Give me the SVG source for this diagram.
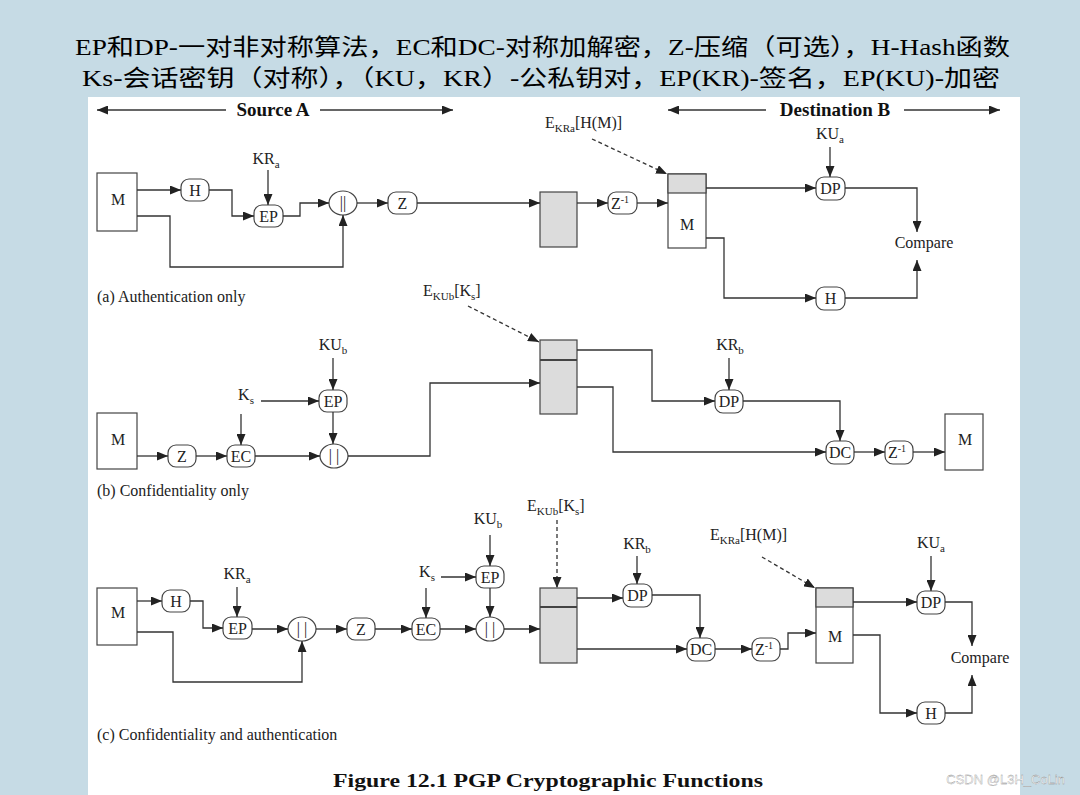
<svg xmlns="http://www.w3.org/2000/svg" width="1080" height="795" viewBox="0 0 1080 795">
<defs>
<marker id="ah" markerUnits="userSpaceOnUse" markerWidth="11" markerHeight="9" refX="11" refY="4.5" orient="auto"><path d="M0,0 L11,4.5 L0,9 z" fill="#222"/></marker>
<style>
.ln{fill:none;stroke:#333;stroke-width:1.3;marker-end:url(#ah)}
.ds{fill:none;stroke:#333;stroke-width:1.3;stroke-dasharray:4 3;marker-end:url(#ah)}
.nd{fill:#fff;stroke:#444;stroke-width:1.2}
.bx{fill:#fff;stroke:#444;stroke-width:1.2}
.gr{fill:#dcdcdc;stroke:#444;stroke-width:1.2}
.t{font-family:"Liberation Serif",serif;font-size:16px;fill:#222}
.c{text-anchor:middle}
.cap{font-family:"Liberation Serif",serif;font-size:16px;fill:#222}
.sub{font-size:11px}
.hd{font-family:"Liberation Serif","Noto Sans CJK SC",serif;font-size:23px;fill:#000}
.bd{font-family:"Liberation Serif",serif;font-size:19px;font-weight:bold;fill:#111}
</style>
</defs>
<rect width="1080" height="795" fill="#c6dbe5"/>
<rect x="88" y="97" width="932" height="698" fill="#fff"/>
<g id="header">
<text class="hd" x="75" y="55" textLength="935" lengthAdjust="spacingAndGlyphs">EP和DP-一对非对称算法，EC和DC-对称加解密，Z-压缩（可选），H-Hash函数</text>
<text class="hd" x="82" y="86" textLength="918" lengthAdjust="spacingAndGlyphs">Ks-会话密钥（对称），（KU，KR）-公私钥对，EP(KR)-签名，EP(KU)-加密</text>
</g>
<g id="sides">
<path class="ln" d="M226,110 H97"/><path class="ln" d="M320,110 H453"/>
<text class="bd c" x="273" y="116">Source A</text>
<path class="ln" d="M766,110 H668"/><path class="ln" d="M904,110 H1000"/>
<text class="bd c" x="835" y="116">Destination B</text>
</g>

<!-- Panel (a) -->
<g id="a-M"><rect class="bx" x="97" y="173" width="40" height="58"/><text class="t c" x="118" y="205">M</text></g>
<g id="a-H"><rect class="nd" x="181" y="179" width="28" height="22" rx="8"/><text class="t c" x="195" y="196">H</text></g>
<g id="a-EP"><rect class="nd" x="254" y="205" width="29" height="22" rx="8"/><text class="t c" x="268.5" y="222">EP</text></g>
<g id="a-cat"><ellipse class="nd" cx="343" cy="203" rx="14" ry="12"/><text class="t c" x="343" y="208" font-size="12">||</text></g>
<g id="a-Z"><rect class="nd" x="388" y="192" width="29" height="22" rx="8"/><text class="t c" x="402.5" y="209">Z</text></g>
<g id="a-msg"><rect class="gr" x="540" y="192" width="37" height="55"/></g>
<g id="a-Zi"><rect class="nd" x="608" y="192" width="29" height="22" rx="8"/><text class="t c" x="620" y="209">Z<tspan dy="-6" font-size="10">-1</tspan></text></g>
<g id="a-box"><rect class="bx" x="668" y="174" width="38" height="74"/><rect class="gr" x="668" y="174" width="38" height="19"/><text class="t c" x="687" y="230">M</text></g>
<g id="a-DP"><rect class="nd" x="816" y="177" width="29" height="23" rx="8"/><text class="t c" x="830.5" y="194">DP</text></g>
<g id="a-H2"><rect class="nd" x="816" y="287" width="29" height="23" rx="8"/><text class="t c" x="830.5" y="304">H</text></g>
<g id="a-labels">
<text class="t c" x="266" y="164">KR<tspan class="sub" dy="4">a</tspan></text>
<text class="t" x="545" y="128">E<tspan class="sub" dy="4">KRa</tspan><tspan dy="-4">[H(M)]</tspan></text>
<text class="t c" x="830" y="139">KU<tspan class="sub" dy="4">a</tspan></text>
<text class="t c" x="924" y="248">Compare</text>
<text class="cap" x="97" y="302">(a) Authentication only</text>
</g>

<!-- Panel (b) -->
<g id="b-M"><rect class="bx" x="97" y="413" width="40" height="56"/><text class="t c" x="118" y="445">M</text></g>
<g id="b-Z"><rect class="nd" x="168" y="445" width="28" height="22" rx="8"/><text class="t c" x="182" y="462">Z</text></g>
<g id="b-EC"><rect class="nd" x="227" y="445" width="28" height="22" rx="8"/><text class="t c" x="241" y="462">EC</text></g>
<g id="b-EP"><rect class="nd" x="319" y="390" width="28" height="22" rx="8"/><text class="t c" x="333" y="407">EP</text></g>
<g id="b-cat"><ellipse class="nd" cx="334" cy="456" rx="14" ry="12"/><text class="t c" x="334" y="461" font-size="13">| |</text></g>
<g id="b-msg"><rect class="gr" x="540" y="340" width="37" height="74"/><line x1="540" y1="360" x2="577" y2="360" stroke="#444" stroke-width="2"/></g>
<g id="b-DP"><rect class="nd" x="715" y="390" width="28" height="23" rx="8"/><text class="t c" x="729" y="407">DP</text></g>
<g id="b-DC"><rect class="nd" x="826" y="441" width="28" height="23" rx="8"/><text class="t c" x="840" y="458">DC</text></g>
<g id="b-Zi"><rect class="nd" x="885" y="441" width="28" height="23" rx="8"/><text class="t c" x="897" y="458">Z<tspan dy="-6" font-size="10">-1</tspan></text></g>
<g id="b-Mout"><rect class="bx" x="945" y="414" width="38" height="56"/><text class="t c" x="965" y="445">M</text></g>
<g id="b-labels">
<text class="t" x="423" y="296">E<tspan class="sub" dy="4">KUb</tspan><tspan dy="-4">[K</tspan><tspan class="sub" dy="4">s</tspan><tspan dy="-4">]</tspan></text>
<text class="t c" x="246" y="400">K<tspan class="sub" dy="4">s</tspan></text>
<text class="t c" x="333" y="350">KU<tspan class="sub" dy="4">b</tspan></text>
<text class="t c" x="730" y="350">KR<tspan class="sub" dy="4">b</tspan></text>
<text class="cap" x="97" y="496">(b) Confidentiality only</text>
</g>

<!-- Panel (c) -->
<g id="c-M"><rect class="bx" x="97" y="588" width="40" height="57"/><text class="t c" x="118" y="618">M</text></g>
<g id="c-H"><rect class="nd" x="162" y="590" width="28" height="22" rx="8"/><text class="t c" x="176" y="607">H</text></g>
<g id="c-EP"><rect class="nd" x="223" y="617" width="29" height="22" rx="8"/><text class="t c" x="237.5" y="634">EP</text></g>
<g id="c-cat"><ellipse class="nd" cx="302" cy="629" rx="14" ry="12"/><text class="t c" x="302" y="634" font-size="13">| |</text></g>
<g id="c-Z"><rect class="nd" x="347" y="618" width="28" height="22" rx="8"/><text class="t c" x="361" y="635">Z</text></g>
<g id="c-EC"><rect class="nd" x="412" y="618" width="28" height="22" rx="8"/><text class="t c" x="426" y="635">EC</text></g>
<g id="c-EP2"><rect class="nd" x="476" y="566" width="28" height="22" rx="8"/><text class="t c" x="490" y="583">EP</text></g>
<g id="c-cat2"><ellipse class="nd" cx="490" cy="629" rx="14" ry="12"/><text class="t c" x="490" y="634" font-size="13">| |</text></g>
<g id="c-msg"><rect class="gr" x="540" y="588" width="37" height="75"/><line x1="540" y1="607" x2="577" y2="607" stroke="#444" stroke-width="2"/></g>
<g id="c-DP"><rect class="nd" x="623" y="584" width="29" height="23" rx="8"/><text class="t c" x="637.5" y="601">DP</text></g>
<g id="c-DC"><rect class="nd" x="687" y="638" width="28" height="23" rx="8"/><text class="t c" x="701" y="655">DC</text></g>
<g id="c-Zi"><rect class="nd" x="752" y="638" width="28" height="23" rx="8"/><text class="t c" x="764" y="655">Z<tspan dy="-6" font-size="10">-1</tspan></text></g>
<g id="c-box"><rect class="bx" x="816" y="588" width="37" height="75"/><rect class="gr" x="816" y="588" width="37" height="19"/><text class="t c" x="835" y="642">M</text></g>
<g id="c-DP2"><rect class="nd" x="917" y="591" width="28" height="23" rx="8"/><text class="t c" x="931" y="608">DP</text></g>
<g id="c-H2"><rect class="nd" x="917" y="702" width="28" height="22" rx="8"/><text class="t c" x="931" y="719">H</text></g>
<g id="c-labels">
<text class="t" x="527" y="511">E<tspan class="sub" dy="4">KUb</tspan><tspan dy="-4">[K</tspan><tspan class="sub" dy="4">s</tspan><tspan dy="-4">]</tspan></text>
<text class="t c" x="488" y="524">KU<tspan class="sub" dy="4">b</tspan></text>
<text class="t c" x="427" y="577">K<tspan class="sub" dy="4">s</tspan></text>
<text class="t c" x="237" y="579">KR<tspan class="sub" dy="4">a</tspan></text>
<text class="t c" x="637" y="549">KR<tspan class="sub" dy="4">b</tspan></text>
<text class="t" x="710" y="540">E<tspan class="sub" dy="4">KRa</tspan><tspan dy="-4">[H(M)]</tspan></text>
<text class="t c" x="931" y="548">KU<tspan class="sub" dy="4">a</tspan></text>
<text class="t c" x="980" y="663">Compare</text>
<text class="cap" x="97" y="740">(c) Confidentiality and authentication</text>
</g>

<g id="connectors">
<!-- a -->
<path class="ln" d="M137,190 H181"/>
<path class="ln" d="M209,190 H232 V216 H254"/>
<path class="ln" d="M268,170 V205"/>
<path class="ln" d="M283,216 H300 V203 H329"/>
<path class="ln" d="M137,216 H170 V267 H343 V215"/>
<path class="ln" d="M357,203 H388"/>
<path class="ln" d="M417,203 H540"/>
<path class="ln" d="M577,203 H608"/>
<path class="ln" d="M637,203 H668"/>
<path class="ds" d="M592,139 L667,174"/>
<path class="ln" d="M706,188 H816"/>
<path class="ln" d="M830,147 V177"/>
<path class="ln" d="M845,188 H917 V232"/>
<path class="ln" d="M706,238 H724 V298 H816"/>
<path class="ln" d="M845,298 H917 V260"/>
<!-- b -->
<path class="ln" d="M137,456 H168"/>
<path class="ln" d="M196,456 H227"/>
<path class="ln" d="M241,414 V445"/>
<path class="ln" d="M261,401 H319"/>
<path class="ln" d="M333,358 V390"/>
<path class="ln" d="M333,412 V444"/>
<path class="ln" d="M255,456 H320"/>
<path class="ln" d="M348,456 H430 V383 H540"/>
<path class="ds" d="M468,306 L539,342"/>
<path class="ln" d="M577,350 H652 V401 H715"/>
<path class="ln" d="M729,358 V390"/>
<path class="ln" d="M743,401 H840 V441"/>
<path class="ln" d="M577,387 H613 V452 H826"/>
<path class="ln" d="M854,452 H885"/>
<path class="ln" d="M913,452 H945"/>
<!-- c -->
<path class="ln" d="M137,601 H162"/>
<path class="ln" d="M190,601 H203 V628 H223"/>
<path class="ln" d="M237,587 V617"/>
<path class="ln" d="M252,629 H288"/>
<path class="ln" d="M137,632 H173 V682 H302 V641"/>
<path class="ln" d="M316,629 H347"/>
<path class="ln" d="M375,629 H412"/>
<path class="ln" d="M426,588 V618"/>
<path class="ln" d="M441,577 H476"/>
<path class="ln" d="M490,535 V566"/>
<path class="ln" d="M490,588 V617"/>
<path class="ln" d="M440,629 H476"/>
<path class="ln" d="M504,629 H540"/>
<path class="ds" d="M557,520 V588"/>
<path class="ln" d="M577,598 H623"/>
<path class="ln" d="M637,556 V584"/>
<path class="ln" d="M652,595 H700 V638"/>
<path class="ln" d="M577,649 H687"/>
<path class="ln" d="M715,649 H752"/>
<path class="ln" d="M780,649 H788 V633 H816"/>
<path class="ds" d="M762,557 L815,588"/>
<path class="ln" d="M853,602 H917"/>
<path class="ln" d="M931,556 V591"/>
<path class="ln" d="M945,602 H972 V646"/>
<path class="ln" d="M853,635 H880 V713 H917"/>
<path class="ln" d="M945,713 H972 V675"/>
</g>
<g id="caption">
<text class="bd" x="333" y="787" font-size="21" textLength="430" lengthAdjust="spacingAndGlyphs">Figure 12.1  PGP Cryptographic Functions</text>
<text x="1065" y="784" text-anchor="end" font-family="Liberation Sans, sans-serif" font-size="13" fill="#fff" stroke="#888" stroke-width="0.3">CSDN @L3H_CoLin</text>
</g>
</svg>
